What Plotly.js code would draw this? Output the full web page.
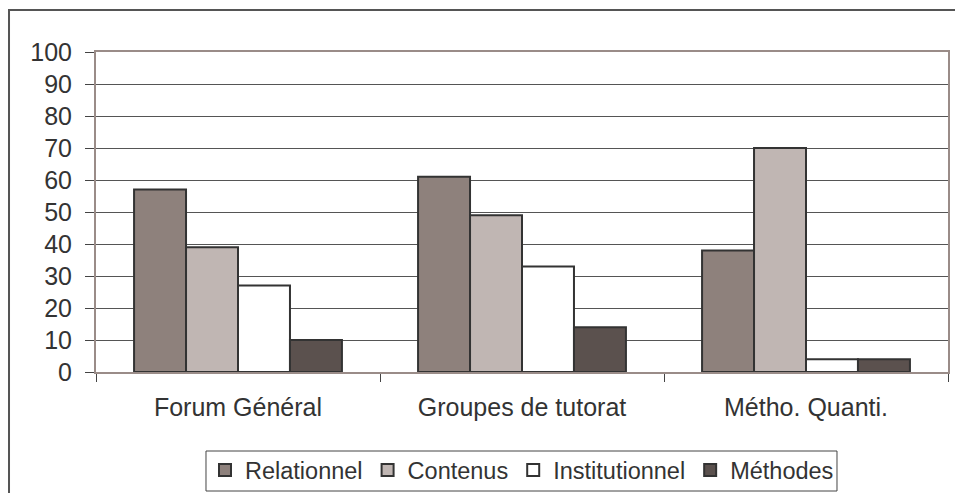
<!DOCTYPE html>
<html>
<head>
<meta charset="utf-8">
<script src="https://cdn.plot.ly/plotly-3.0.1.min.js"></script>
<style>html,body{margin:0;padding:0;background:#fff;}#chart{width:955px;height:493px;}</style>
</head>
<body>
<div id="chart"></div>
<script>
const categories = ["Forum Général", "Groupes de tutorat", "Métho. Quanti."];
const seriesNames = ["Relationnel", "Contenus", "Institutionnel", "Méthodes"];
const relationnel = [57, 61, 38];
const contenus = [39, 49, 70];
const institutionnel = [27, 33, 4];
const methodes = [10, 14, 4];
const yTicks = [0, 10, 20, 30, 40, 50, 60, 70, 80, 90, 100];

const seriesValues = [relationnel, contenus, institutionnel, methodes];
const colors = ["#8e817c", "#c0b6b3", "#ffffff", "#5b514e"];

const traces = seriesValues.map((vals, i) => ({
  type: "bar",
  name: seriesNames[i],
  x: categories,
  y: vals,
  marker: {color: colors[i], line: {color: "#333333", width: 2}},
  hoverinfo: "x+y+name"
}));

const layout = {
  width: 955,
  height: 493,
  margin: {l: 96, r: 7, t: 52, b: 121, autoexpand: false},
  paper_bgcolor: "#ffffff",
  plot_bgcolor: "#ffffff",
  font: {family: "Liberation Sans, Arial, sans-serif", size: 25, color: "#333333"},
  barmode: "group",
  bargap: 0.268,
  bargroupgap: 0,
  showlegend: true,
  legend: {
    orientation: "h",
    x: 0.5, xanchor: "center",
    y: -0.238, yanchor: "top",
    bgcolor: "rgba(0,0,0,0)",
    borderwidth: 0,
    font: {size: 23.5, color: "#333333"},
    traceorder: "normal",
    itemwidth: 30,
    tracegroupgap: 0
  },
  xaxis: {
    type: "category",
    showline: true, linecolor: "#9a8c88", linewidth: 2, mirror: true,
    ticks: "outside", tickson: "boundaries", ticklen: 8, tickcolor: "#444444", tickwidth: 1,
    showgrid: false,
    zeroline: false,
    ticklabelstandoff: 12,
    fixedrange: true
  },
  yaxis: {
    range: [0, 100],
    tickvals: yTicks,
    ticktext: yTicks.map(String),
    showline: true, linecolor: "#9a8c88", linewidth: 2, mirror: true,
    ticks: "outside", ticklen: 9, tickcolor: "#444444", tickwidth: 1,
    showgrid: true, gridcolor: "#555555", gridwidth: 1,
    zeroline: false,
    ticklabelstandoff: 8,
    fixedrange: true
  },
  shapes: [{
    type: "rect", xref: "paper", yref: "paper",
    x0: -0.1021, x1: 1.02, y0: -0.45, y1: 1.13125,
    line: {color: "#555555", width: 2},
    fillcolor: "rgba(0,0,0,0)",
    layer: "below"
  }, {
    type: "rect", xref: "paper", yref: "paper",
    x0: 0.1291, x1: 0.8697, y0: -0.3719, y1: -0.2469,
    line: {color: "#444444", width: 1},
    fillcolor: "#ffffff",
    layer: "below"
  }]
};

Plotly.newPlot("chart", traces, layout, {displayModeBar: false, staticPlot: true});
</script>
</body>
</html>
